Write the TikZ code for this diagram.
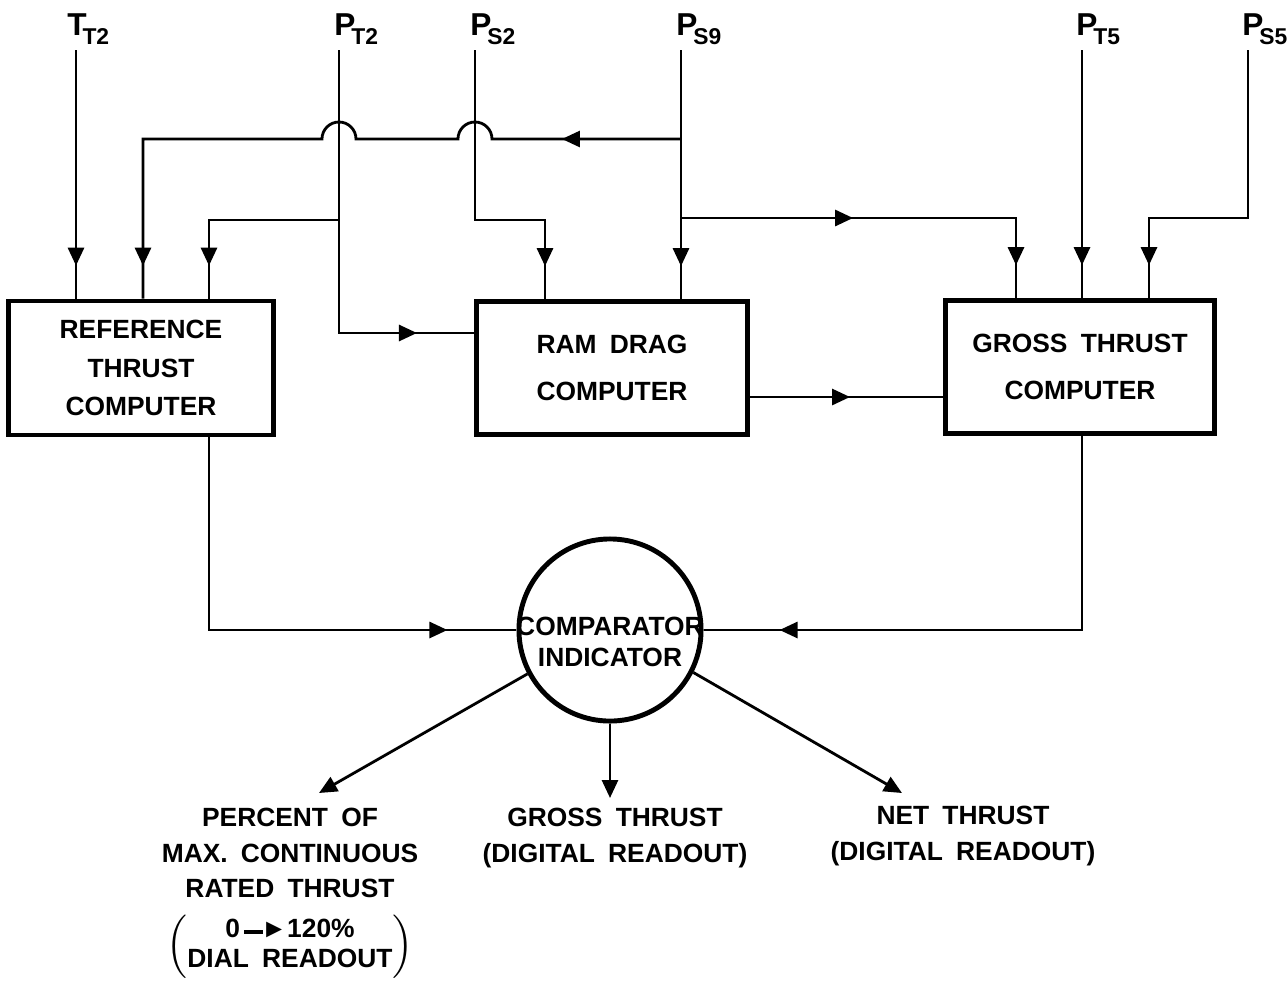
\documentclass[tikz,border=0pt]{standalone}
\usepackage{fontspec}
\setmainfont{Liberation Sans}[WordSpace=1.8]
\usetikzlibrary{arrows.meta,decorations.markings}
\newcommand{\lowsub}[1]{\kern-1.2pt\raisebox{-2.6pt}{\fontsize{6.5}{7}\selectfont #1}}

\begin{document}
\begin{tikzpicture}[x=0.01cm,y=-0.01cm,line width=0.8pt,
  >={Triangle[length=1.8mm,width=1.6mm]},
  every node/.style={font=\fontsize{7.5}{10}\selectfont\bfseries},
  box/.style={draw,line width=1.3pt,inner sep=0pt,align=center},
  sig/.style={anchor=base west,inner sep=0pt,font=\fontsize{9}{10}\selectfont\bfseries},
  readout/.style={anchor=north,inner sep=0pt,align=center},
  midarrow/.style={postaction={decorate,decoration={markings,mark=at position #1 with {\arrow{>}}}}}]
  \useasboundingbox (0,0) rectangle (1287,981);

  \node[sig] (tt2) at (66,35) {T\lowsub{T2}};
  \node[sig] (pt2) at (333,35) {P\lowsub{T2}};
  \node[sig] (ps2) at (469,35) {P\lowsub{S2}};
  \node[sig] (ps9) at (675,35) {P\lowsub{S9}};
  \node[sig] (pt5) at (1075,35) {P\lowsub{T5}};
  \node[sig] (ps5) at (1241,35) {P\lowsub{S5}};
  \coordinate (tt2in) at (76,50);
  \coordinate (pt2in) at (339,50);
  \coordinate (ps2in) at (475,50);
  \coordinate (ps9in) at (681,50);
  \coordinate (pt5in) at (1082,50);
  \coordinate (ps5in) at (1248,50);

  \node[box,minimum width=2.65cm,minimum height=1.34cm] (ref) at (141,368)
    {REFERENCE\\[1pt]THRUST\\[1pt]COMPUTER};
  \node[box,minimum width=2.71cm,minimum height=1.33cm] (ram) at (612,368)
    {RAM DRAG\\[3.5pt]COMPUTER};
  \node[box,minimum width=2.69cm,minimum height=1.33cm] (gross) at (1080,367)
    {GROSS THRUST\\[3.5pt]COMPUTER};
  \node[circle,draw,line width=1.4pt,minimum size=1.82cm,inner sep=0pt,
    label={[align=center,yshift=-0.12cm,font=\fontsize{7.5}{8.8}\selectfont\bfseries]center:COMPARATOR\\INDICATOR}] (comp) at (610,630) {};

  \coordinate (rin2) at (143,139);
  \coordinate (rin3) at (209,220);
  \coordinate (ramin1) at (545,220);
  \coordinate (ramin2) at (477,333);
  \coordinate (ramout) at (748,397);
  \coordinate (ps9l) at (681,139);
  \coordinate (ps9r) at (681,218);
  \coordinate (gin1) at (1016,218);
  \coordinate (gin3) at (1149,218);

  \draw[midarrow=-0.33cm] (tt2in) -- (tt2in |- ref.north);
  \draw[midarrow=-0.6cm] (pt2in) -- (pt2in |- ramin2) -- (ramin2);
  \draw[midarrow=-0.33cm] (pt2in |- rin3) -- (rin3) -- (rin3 |- ref.north);
  \draw[midarrow=-0.33cm] (ps2in) -- (ps2in |- ramin1) -- (ramin1) -- (ramin1 |- ram.north);
  \draw[midarrow=-0.33cm] (ps9in) -- (ps9in |- ram.north);
  \draw[midarrow=1.19cm,midarrow=-0.33cm] (ps9l) -- (492,139)
    arc[start angle=0,end angle=180,radius=0.17cm] -- (356,139)
    arc[start angle=0,end angle=180,radius=0.17cm] -- (rin2) -- (rin2 |- ref.north);
  \draw[midarrow=1.72cm,midarrow=-0.33cm] (ps9r) -- (gin1) -- (gin1 |- gross.north);
  \draw[midarrow=-0.33cm] (pt5in) -- (pt5in |- gross.north);
  \draw[midarrow=-0.33cm] (ps5in) -- (ps5in |- gin3) -- (gin3) -- (gin3 |- gross.north);
  \draw[midarrow=1.02cm] (ramout) -- (ramout -| gross.west);
  \draw[midarrow=-0.69cm] (rin3 |- ref.south) |- (comp.west);
  \draw[midarrow=-0.76cm] (pt5in |- gross.south) |- (comp.east);

  \node[readout] (pct) at (290,807) {PERCENT OF\\MAX. CONTINUOUS\\RATED THRUST\\[4pt]
    \renewcommand{\arraystretch}{0.85}%
    $\left(\begin{tabular}{@{}c@{}}0\,\rule[0.3ex]{1.3ex}{0.9pt}\kern-0.4pt►120\%\\DIAL READOUT\end{tabular}\right)$};
  \node[readout] (grossro) at (615,807) {GROSS THRUST\\(DIGITAL READOUT)};
  \node[readout] (netro) at (963,805) {NET THRUST\\(DIGITAL READOUT)};
  \coordinate (pcttip) at (319,793);
  \coordinate (grosstip) at (610,798);
  \coordinate (nettip) at (902,793);
  \draw[->] (comp.208) -- (pcttip);
  \draw[->] (comp.south) -- (grosstip);
  \draw[->] (comp.333) -- (nettip);
\end{tikzpicture}
\end{document}
